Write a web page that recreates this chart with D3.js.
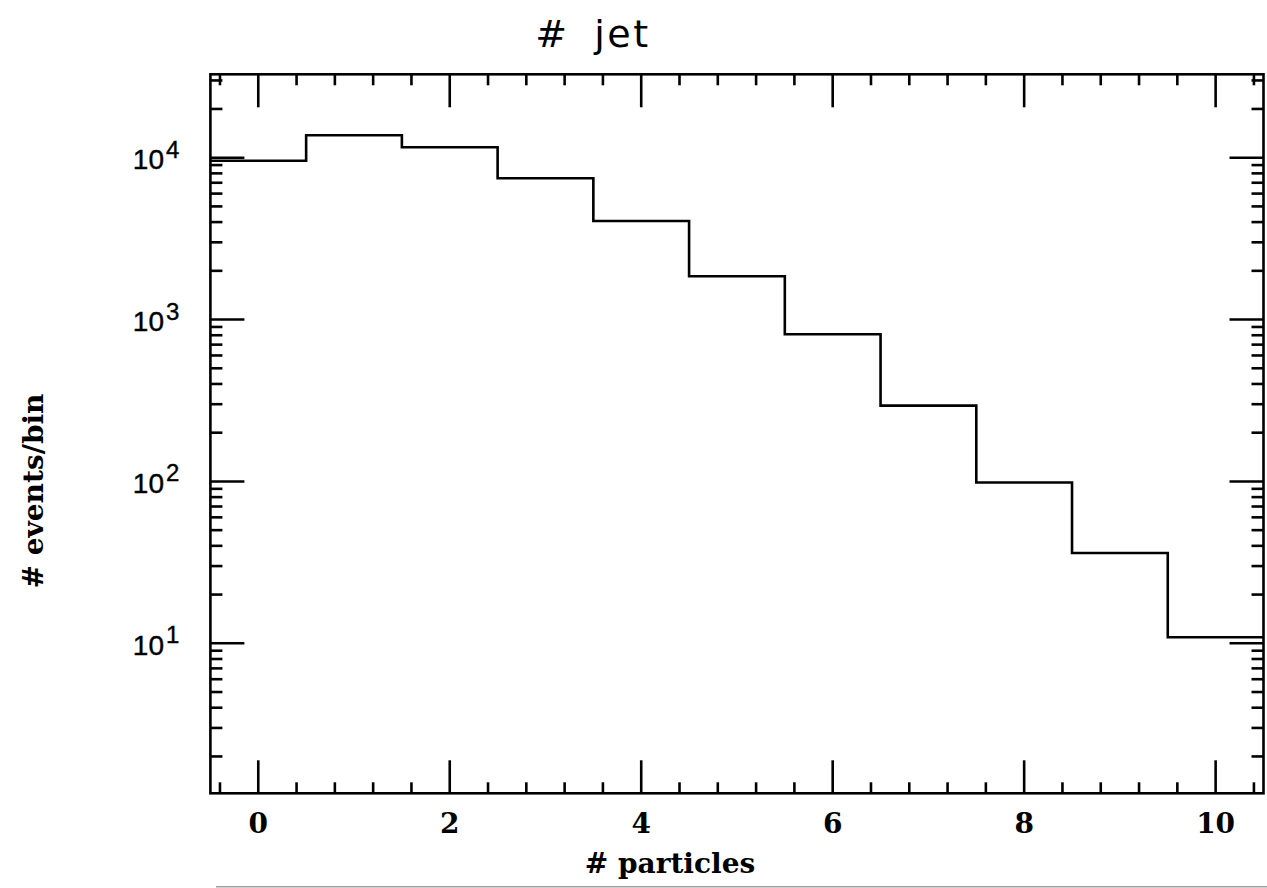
<!DOCTYPE html>
<html><head><meta charset="utf-8">
<script src="https://cdn.jsdelivr.net/npm/d3@7"></script>
<style>html,body{margin:0;padding:0;background:#fff;}svg{display:block;}</style>
</head><body>
<svg id="chart" width="1267" height="888"></svg>
<script>
// ---- data ----
const binCenters = [0, 1, 2, 3, 4, 5, 6, 7, 8, 9, 10];
const counts = [9580, 13750, 11600, 7460, 4060, 1850, 811, 294, 98.4, 36.1, 10.9];
const xTickValues = [0, 2, 4, 6, 8, 10];
const xTickLabels = ["0", "2", "4", "6", "8", "10"];
const yDecades = [1, 2, 3, 4];
const titleText = "# jet";
const xLabelText = "# particles";
const yLabelText = "# events/bin";

const svg = d3.select("#chart");
const L = 210.4, R = 1263.5, T = 74.3, B = 793.3;
const x = d3.scaleLinear().domain([-0.5, 10.5]).range([L, R]);
const y = d3.scaleLog().domain([1.184, 32740]).range([B, T]);

const ink = "#000", lw = 2.6;
const serifBold = "'DejaVu Serif', serif";
const sans = "'Liberation Sans', Arial, sans-serif";

// minor x ticks every 0.4
const xMinor = d3.range(-0.4, 10.5, 0.4).map(v => +v.toFixed(2)).filter(v => !xTickValues.some(t => Math.abs(t - v) < 1e-6));
// minor y ticks 2..9 per decade
const yMinor = [];
for (let d = 0; d <= 4; d++) for (let k = 2; k <= 9; k++) { const v = k * Math.pow(10, d); if (v >= y.domain()[0] && v <= y.domain()[1]) yMinor.push(v); }
const yMajor = yDecades.map(d => Math.pow(10, d));

const majLen = 33, minLen = 11;
const tk = svg.append("g").attr("stroke", ink).attr("stroke-width", lw);
xTickValues.forEach(v => {
  tk.append("line").attr("x1", x(v)).attr("x2", x(v)).attr("y1", B).attr("y2", B - majLen);
  tk.append("line").attr("x1", x(v)).attr("x2", x(v)).attr("y1", T).attr("y2", T + majLen);
});
xMinor.forEach(v => {
  tk.append("line").attr("x1", x(v)).attr("x2", x(v)).attr("y1", B).attr("y2", B - minLen);
  tk.append("line").attr("x1", x(v)).attr("x2", x(v)).attr("y1", T).attr("y2", T + minLen);
});
yMajor.forEach(v => {
  tk.append("line").attr("y1", y(v)).attr("y2", y(v)).attr("x1", L).attr("x2", L + majLen + 1);
  tk.append("line").attr("y1", y(v)).attr("y2", y(v)).attr("x1", R).attr("x2", R - majLen - 1);
});
yMinor.forEach(v => {
  tk.append("line").attr("y1", y(v)).attr("y2", y(v)).attr("x1", L).attr("x2", L + minLen + 1);
  tk.append("line").attr("y1", y(v)).attr("y2", y(v)).attr("x1", R).attr("x2", R - minLen - 1);
});

// frame
svg.append("rect").attr("x", L).attr("y", T).attr("width", R - L).attr("height", B - T)
  .attr("fill", "none").attr("stroke", ink).attr("stroke-width", lw);

// histogram
const pts = binCenters.map((c, i) => [c - 0.5, counts[i]]);
pts.push([binCenters[binCenters.length - 1] + 0.5, counts[counts.length - 1]]);
const line = d3.line().x(d => x(d[0])).y(d => y(d[1])).curve(d3.curveStepAfter);
svg.append("path").attr("d", line(pts)).attr("fill", "none").attr("stroke", ink)
  .attr("stroke-width", lw).attr("stroke-linejoin", "miter");

// x tick labels
xTickValues.forEach((v, i) => {
  svg.append("text").attr("x", x(v)).attr("y", 833).attr("text-anchor", "middle")
    .attr("font-family", serifBold).attr("font-weight", "bold")
    .attr("font-size", 28).attr("fill", ink).text(xTickLabels[i]);
});

// y tick labels 10^n
yDecades.forEach(d => {
  const yy = y(Math.pow(10, d));
  svg.append("text").attr("x", 164).attr("y", yy + 11.5).attr("text-anchor", "end")
    .attr("font-family", sans).attr("font-size", 28).attr("fill", ink)
    .attr("stroke", ink).attr("stroke-width", 0.4).text("10");
  svg.append("text").attr("x", 166).attr("y", yy).attr("text-anchor", "start")
    .attr("font-family", sans).attr("font-size", 24).attr("fill", ink)
    .attr("stroke", ink).attr("stroke-width", 0.4).text(String(d));
});

// title
svg.append("text").attr("x", 593).attr("y", 47).attr("text-anchor", "middle")
  .attr("font-family", "'DejaVu Sans', sans-serif").attr("font-size", 38)
  .attr("letter-spacing", 2.5).attr("word-spacing", 10).attr("fill", ink).text(titleText);

// axis labels
svg.append("text").attr("x", 670).attr("y", 873).attr("text-anchor", "middle")
  .attr("font-family", serifBold).attr("font-weight", "bold").attr("font-size", 28)
  .attr("fill", ink).text(xLabelText);
svg.append("text").attr("transform", "translate(43,491) rotate(-90)").attr("text-anchor", "middle")
  .attr("font-family", serifBold).attr("font-weight", "bold").attr("font-size", 28)
  .attr("fill", ink).text(yLabelText);

// faint rule at the bottom
svg.append("line").attr("x1", 216).attr("x2", 1267).attr("y1", 886.7).attr("y2", 886.7)
  .attr("stroke", "#a0a0a0").attr("stroke-width", 1.5);
</script>
</body></html>
